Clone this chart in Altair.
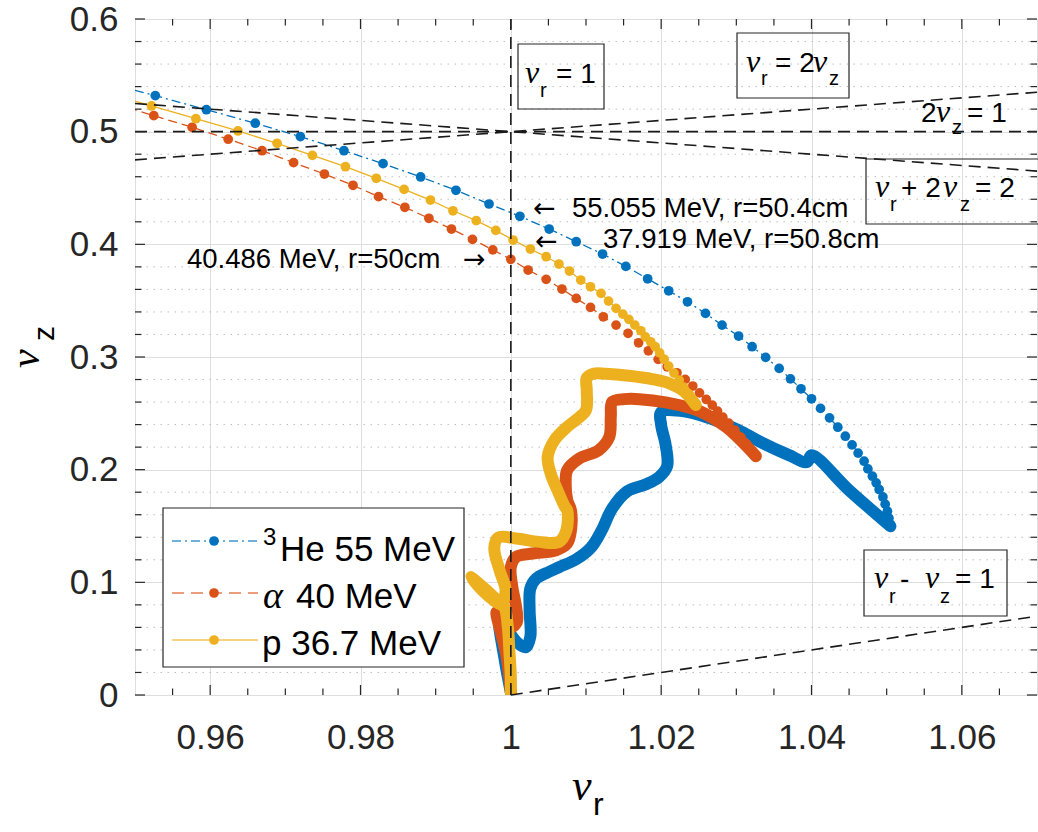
import altair as alt
import pandas as pd

# ---------------- data ----------------
# 3He 55 MeV : dense inner part, centre -> turning tip
he3_core_x = [1.0000, 0.9992, 0.9985, 0.9994, 1.0008, 1.0020, 1.0026, 1.0025, 1.0026, 1.0034,
              1.0047, 1.0064, 1.0087, 1.0107, 1.0121, 1.0135, 1.0155, 1.0180, 1.0197, 1.0208,
              1.0206, 1.0200, 1.0200, 1.0228, 1.0264, 1.0303, 1.0330, 1.0370, 1.0394, 1.0400,
              1.0450, 1.0505]
he3_core_y = [0.0024, 0.0308, 0.0663, 0.0592, 0.0468, 0.0424, 0.0521, 0.0752, 0.0948, 0.1036,
              0.1081, 0.1134, 0.1205, 0.1312, 0.1463, 0.1658, 0.1809, 0.1871, 0.1933, 0.2031,
              0.2218, 0.2395, 0.2511, 0.2520, 0.2457, 0.2351, 0.2253, 0.2129, 0.2067, 0.2129,
              0.1818, 0.1498]
# 3He 55 MeV : outer points, tip -> outwards
he3_x = [1.0505, 1.0503, 1.0501, 1.0498, 1.0495, 1.0490, 1.0486, 1.0481, 1.0475, 1.0470,
         1.0462, 1.0454, 1.0445, 1.0435, 1.0424, 1.0412, 1.0400, 1.0386, 1.0372, 1.0357,
         1.0339, 1.0321, 1.0303, 1.0281, 1.0259, 1.0235, 1.0210, 1.0182, 1.0153, 1.0122,
         1.0087, 1.0051, 1.0012, 0.9971, 0.9927, 0.9880, 0.9830, 0.9778, 0.9720, 0.9660,
         0.9595, 0.9527, 0.9458]
he3_y = [0.1516, 0.1569, 0.1631, 0.1694, 0.1758, 0.1824, 0.1883, 0.1942, 0.2007, 0.2075,
         0.2147, 0.2220, 0.2297, 0.2377, 0.2460, 0.2544, 0.2629, 0.2718, 0.2806, 0.2899,
         0.2997, 0.3091, 0.3186, 0.3283, 0.3387, 0.3490, 0.3588, 0.3694, 0.3804, 0.3914,
         0.4023, 0.4136, 0.4249, 0.4358, 0.4480, 0.4598, 0.4716, 0.4831, 0.4956, 0.5075,
         0.5195, 0.5320, 0.5441]

# alpha 40 MeV
alpha_core_x = [1.0000, 0.9994, 0.9981, 0.9988, 1.0000, 1.0008, 1.0007, 1.0002, 1.0000, 1.0007,
                1.0029, 1.0060, 1.0075, 1.0080, 1.0080, 1.0075, 1.0073, 1.0075, 1.0091, 1.0117,
                1.0131, 1.0133, 1.0135, 1.0151, 1.0171, 1.0206, 1.0250, 1.0286, 1.0326]
alpha_core_y = [0.0024, 0.0353, 0.0734, 0.0672, 0.0601, 0.0646, 0.0782, 0.0959, 0.1137, 0.1226,
                0.1256, 0.1285, 0.1345, 0.1463, 0.1640, 0.1729, 0.1877, 0.1996, 0.2099, 0.2173,
                0.2291, 0.2469, 0.2602, 0.2626, 0.2626, 0.2597, 0.2522, 0.2380, 0.2120]
alpha_x = [1.0321, 1.0314, 1.0306, 1.0298, 1.0290, 1.0282, 1.0275, 1.0268, 1.0260, 1.0251,
           1.0242, 1.0232, 1.0221, 1.0208, 1.0196, 1.0183, 1.0170, 1.0156, 1.0140, 1.0123,
           1.0106, 1.0087, 1.0068, 1.0047, 1.0023, 1.0000, 0.9976, 0.9949, 0.9921, 0.9891,
           0.9859, 0.9824, 0.9790, 0.9752, 0.9711, 0.9669, 0.9624, 0.9576, 0.9525, 0.9474]
alpha_y = [0.2164, 0.2226, 0.2289, 0.2351, 0.2413, 0.2466, 0.2520, 0.2573, 0.2623, 0.2682,
           0.2742, 0.2801, 0.2860, 0.2913, 0.2979, 0.3055, 0.3126, 0.3210, 0.3283, 0.3357,
           0.3440, 0.3520, 0.3603, 0.3689, 0.3772, 0.3867, 0.3951, 0.4044, 0.4136, 0.4231,
           0.4329, 0.4423, 0.4524, 0.4624, 0.4725, 0.4831, 0.4933, 0.5039, 0.5142, 0.5246]

# p 36.7 MeV
p_core_x = [1.0000, 1.0000, 0.9998, 0.9996, 0.9991, 0.9980, 0.9962, 0.9947, 0.9969, 0.9988,
            0.9993, 0.9985, 0.9978, 0.9983, 1.0007, 1.0038, 1.0064, 1.0074, 1.0075, 1.0072,
            1.0062, 1.0053, 1.0049, 1.0058, 1.0075, 1.0088, 1.0100, 1.0101, 1.0101, 1.0111,
            1.0126, 1.0157, 1.0188, 1.0210, 1.0230, 1.0246]
p_core_y = [0.0024, 0.0160, 0.0397, 0.0604, 0.0782, 0.0826, 0.0930, 0.1045, 0.0921, 0.0823,
            0.0930, 0.1107, 0.1303, 0.1396, 0.1389, 0.1359, 0.1359, 0.1463, 0.1640, 0.1670,
            0.1818, 0.1966, 0.2114, 0.2262, 0.2380, 0.2448, 0.2528, 0.2706, 0.2813, 0.2853,
            0.2851, 0.2833, 0.2804, 0.2768, 0.2697, 0.2573]
p_x = [1.0242, 1.0237, 1.0230, 1.0224, 1.0217, 1.0210, 1.0204, 1.0198, 1.0192, 1.0186,
       1.0179, 1.0173, 1.0165, 1.0157, 1.0149, 1.0140, 1.0130, 1.0120, 1.0106, 1.0093,
       1.0078, 1.0064, 1.0047, 1.0026, 1.0003, 0.9980, 0.9954, 0.9923, 0.9893, 0.9858,
       0.9821, 0.9780, 0.9736, 0.9689, 0.9637, 0.9581, 0.9522, 0.9462]
p_y = [0.2617, 0.2671, 0.2733, 0.2795, 0.2857, 0.2919, 0.2981, 0.3037, 0.3091, 0.3135,
       0.3179, 0.3233, 0.3283, 0.3334, 0.3381, 0.3432, 0.3496, 0.3565, 0.3623, 0.3683,
       0.3763, 0.3825, 0.3890, 0.3958, 0.4038, 0.4124, 0.4210, 0.4298, 0.4393, 0.4488,
       0.4586, 0.4689, 0.4790, 0.4897, 0.5006, 0.5115, 0.5228, 0.5344]

# resonance lines (start / end points)
res_x1 = [1.00, 0.95, 0.95, 0.95, 1.00]
res_y1 = [0.00, 0.50, 0.475, 0.525, 0.00]
res_x2 = [1.00, 1.07, 1.07, 1.07, 1.07]
res_y2 = [0.60, 0.50, 0.535, 0.465, 0.07]

# ticks
x_major = [0.96, 0.98, 1.00, 1.02, 1.04, 1.06]
x_minor = [0.955, 0.965, 0.97, 0.975, 0.985, 0.99, 0.995, 1.005, 1.01, 1.015,
           1.025, 1.03, 1.035, 1.045, 1.05, 1.055, 1.065]
y_major = [0, 0.1, 0.2, 0.3, 0.4, 0.5, 0.6]
y_minor = [0.02, 0.04, 0.06, 0.08, 0.12, 0.14, 0.16, 0.18, 0.22, 0.24, 0.26, 0.28,
           0.32, 0.34, 0.36, 0.38, 0.42, 0.44, 0.46, 0.48, 0.52, 0.54, 0.56, 0.58]

# ---------------- styling ----------------
W, H = 902, 676
FONT = "Liberation Sans"
SERIF = "Liberation Serif"
AX = "#262626"
BLUE, RED, YEL = "#0072BD", "#D95319", "#EDB120"

xscale = alt.Scale(domain=[0.95, 1.07], nice=False, zero=False)
yscale = alt.Scale(domain=[0, 0.6], nice=False, zero=False)
xaxis = alt.Axis(values=x_major, format="~g", title=None, domain=False, ticks=False,
                 labelFont=FONT, labelFontSize=35, labelColor=AX, labelPadding=25,
                 labelFlush=False, labelOverlap=False,
                 grid=True, gridColor="#dedede", gridWidth=1)
yaxis = alt.Axis(values=y_major, format="~g", title=None, domain=False, ticks=False,
                 labelFont=FONT, labelFontSize=35, labelColor=AX, labelPadding=17,
                 labelFlush=False, labelOverlap=False,
                 grid=True, gridColor="#dedede", gridWidth=1)


def X(f):
    return alt.X(f"{f}:Q", scale=xscale, axis=xaxis)


def Y(f):
    return alt.Y(f"{f}:Q", scale=yscale, axis=yaxis)


def df_xy(xs, ys):
    return pd.DataFrame({"x": xs, "y": ys, "o": list(range(len(xs)))})


ONE = alt.Data(values=[{"a": 1}])


def T(text, x, y, size, font=FONT, style="normal", angle=0, color="black"):
    return alt.Chart(ONE).mark_text(text=text, fontSize=size, font=font, fontStyle=style,
                                    angle=angle, align="left", baseline="alphabetic",
                                    color=color).encode(x=alt.value(x), y=alt.value(y))


def box(x1, y1, x2, y2, fill=None):
    kw = dict(stroke=AX, strokeWidth=1.2)
    if fill:
        kw.update(fill=fill, fillOpacity=1)
    else:
        kw.update(fillOpacity=0)
    return alt.Chart(ONE).mark_rect(**kw).encode(
        x=alt.value(x1), x2=alt.value(x2), y=alt.value(y1), y2=alt.value(y2))


layers = []

# minor dotted grid
layers.append(alt.Chart(pd.DataFrame({"v": y_minor})).mark_rule(
    color="#bdbdbd", strokeWidth=1, strokeDash=[1.5, 5.5]).encode(y=Y("v")))


def series(core_x, core_y, xs, ys, color, dash):
    out = []
    d = df_xy(xs, ys)
    c = df_xy(core_x, core_y)
    line_kw = dict(color=color, strokeWidth=1.3, clip=True)
    if dash:
        line_kw["strokeDash"] = dash
    out.append(alt.Chart(d).mark_line(**line_kw).encode(x=X("x"), y=Y("y"), order="o:Q"))
    out.append(alt.Chart(c).mark_line(color=color, strokeWidth=12, strokeCap="round",
                                      strokeJoin="round", interpolate="catmull-rom",
                                      clip=True).encode(x=X("x"), y=Y("y"), order="o:Q"))
    out.append(alt.Chart(d).mark_circle(color=color, size=95, opacity=1, clip=True).encode(
        x=X("x"), y=Y("y")))
    return out


layers += series(he3_core_x, he3_core_y, he3_x, he3_y, BLUE, [9, 4, 2, 4])
layers += series(alpha_core_x, alpha_core_y, alpha_x, alpha_y, RED, [9, 5])
layers += series(p_core_x, p_core_y, p_x, p_y, YEL, None)

# resonance lines
res = pd.DataFrame({"x": res_x1, "y": res_y1, "x2": res_x2, "y2": res_y2})
layers.append(alt.Chart(res).mark_rule(color="#1a1a1a", strokeWidth=1.6, strokeDash=[12, 7]).encode(
    x=X("x"), y=Y("y"), x2="x2:Q", y2="y2:Q"))

# ticks on all four sides
xM = pd.DataFrame({"v": x_major})
xm = pd.DataFrame({"v": x_minor})
yM = pd.DataFrame({"v": y_major})
ym = pd.DataFrame({"v": y_minor})
for dfx, L in ((xM, 10), (xm, 6.5)):
    layers.append(alt.Chart(dfx).mark_rule(color=AX, strokeWidth=1.2).encode(
        x=X("v"), y=alt.value(H), y2=alt.value(H - L)))
    layers.append(alt.Chart(dfx).mark_rule(color=AX, strokeWidth=1.2).encode(
        x=X("v"), y=alt.value(0), y2=alt.value(L)))
for dfy, L in ((yM, 10), (ym, 6.5)):
    layers.append(alt.Chart(dfy).mark_rule(color=AX, strokeWidth=1.2).encode(
        y=Y("v"), x=alt.value(0), x2=alt.value(L)))
    layers.append(alt.Chart(dfy).mark_rule(color=AX, strokeWidth=1.2).encode(
        y=Y("v"), x=alt.value(W), x2=alt.value(W - L)))

NU = dict(font=SERIF, style="italic")

# nu_r = 1
layers.append(box(383, 25, 469, 90))
layers += [T("ν", 390, 64, 32, **NU), T("r", 405, 78, 20), T("= 1", 421, 64, 28)]
# nu_r = 2 nu_z
layers.append(box(602, 14, 714, 79))
layers += [T("ν", 611, 53, 32, **NU), T("r", 626, 66, 20), T("= 2", 640, 53, 28),
           T("ν", 678, 53, 32, **NU), T("z", 694, 66, 20)]
# 2 nu_z = 1
layers += [T("2", 786, 103, 28), T("ν", 801, 103, 32, **NU), T("z", 817, 115, 20),
           T("= 1", 832, 103, 28)]
# nu_r + 2 nu_z = 2
layers.append(box(731, 140, 912, 205))
layers += [T("ν", 740, 178, 32, **NU), T("r", 755, 192, 20), T("+ 2", 766, 178, 28),
           T("ν", 808, 178, 32, **NU), T("z", 825, 192, 20), T("= 2", 840, 178, 28)]
# nu_r - nu_z = 1
layers.append(box(729, 531, 872, 597))
layers += [T("ν", 739, 569, 32, **NU), T("r", 754, 584, 20), T("-", 765, 569, 28),
           T("ν", 790, 569, 32, **NU), T("z", 805, 584, 20), T("= 1", 820, 569, 28)]

# energy annotations
layers += [T("←", 398, 198, 27, font="DejaVu Sans"),
           T("55.055 MeV, r=50.4cm", 437, 198, 27.5),
           T("←", 400, 231, 27, font="DejaVu Sans"),
           T("37.919 MeV, r=50.8cm", 468, 229, 27.5),
           T("40.486 MeV, r=50cm", 52, 249, 27.5),
           T("→", 328, 249, 27, font="DejaVu Sans")]

# axis titles
layers += [T("ν", 437, 781, 44, **NU), T("r", 458, 796, 32),
           T("ν", -96, 349, 42, angle=270, **NU), T("z", -81, 322, 30, angle=270)]

# legend
layers.append(box(28, 489, 329, 648, fill="white"))
for yy, col, dash in ((522, BLUE, [9, 4, 2, 4]), (574, RED, [12, 7]), (621, YEL, None)):
    kw = dict(color=col, strokeWidth=1.5, opacity=0.75)
    if dash:
        kw["strokeDash"] = dash
    layers.append(alt.Chart(ONE).mark_rule(**kw).encode(
        x=alt.value(37), x2=alt.value(123), y=alt.value(yy)))
    layers.append(alt.Chart(ONE).mark_circle(color=col, size=95, opacity=1).encode(
        x=alt.value(79), y=alt.value(yy)))
layers += [T("3", 128, 526, 24), T("He 55 MeV", 145, 542, 35),
           T("α", 128, 589, 38, **NU), T("40 MeV", 161, 589, 35),
           T("p 36.7 MeV", 127, 636, 35)]

chart = alt.layer(*layers).properties(
    width=W, height=H,
    autosize=alt.AutoSizeParams(type="none"),
    padding={"left": 135, "top": 19, "right": 1, "bottom": 137},
).configure_view(stroke=AX, strokeWidth=1.5).configure(background="white")

chart.save("out.html", embed_options={"renderer": "svg", "actions": False})
